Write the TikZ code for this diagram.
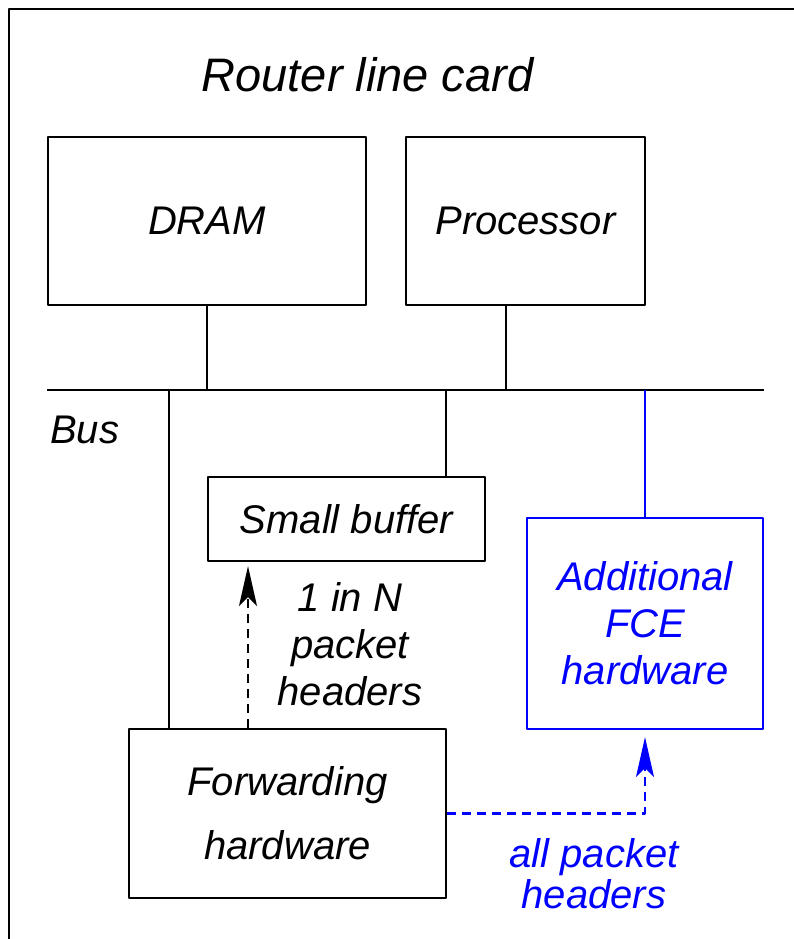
\documentclass[tikz,border=0pt]{standalone}
\usepackage{fontspec}
\setmainfont{Liberation Sans}
\usetikzlibrary{arrows.meta}
\begin{document}
\begin{tikzpicture}[x=1pt,y=-1pt,font=\fontsize{40}{47}\selectfont\itshape,line join=round,
	box/.style={draw,line width=2.2pt,inner sep=0pt,align=center},
	link/.style={line width=2.2pt},
	flow/.style={line width=2.2pt,dash pattern=on 9pt off 6pt,-{Stealth[length=40pt,width=18pt,inset=9pt]}}]
	\useasboundingbox (0,0) rectangle (794,939);
	\clip (0,0) rectangle (794,939);
	\path
	(47,390) coordinate (busL)
	(764,390) coordinate (busR)
	(169,390) coordinate (tapF)
	(446,390) coordinate (tapB)
	(248,0) coordinate (hdr)
	;
	\draw[line width=2.2pt] (9,9) rectangle (840,990);
	\node[anchor=base,font=\fontsize{47}{56}\selectfont\itshape] (title) at (367.5,92) {Router line card};
	\node[box,minimum width=318pt,minimum height=168pt] (dram) at (207,221) {DRAM};
	\node[box,minimum width=239pt,minimum height=168pt] (proc) at (525.5,221) {Processor};
	\node[box,minimum width=277pt,minimum height=84pt] (sbuf) at (346.5,519) {Small buffer};
	\node[box,blue,minimum width=236pt,minimum height=211pt] (fce) at (645,623.5) {Additional\\FCE\\hardware};
	\node[box,minimum width=317pt,minimum height=169pt,font=\fontsize{40}{64}\selectfont\itshape] (fwd) at (287.5,813.5) {Forwarding\\hardware};
	\node[anchor=base west,inner sep=0pt] (bus) at (50,443) {Bus};
	\node[align=center,inner sep=0pt] (onein) at (350,644.5) {1 in N\\packet\\headers};
	\node[align=center,inner sep=0pt,blue,font=\fontsize{40}{41}\selectfont\itshape] (allhdr) at (594,874) {all packet\\headers};
	% bus and taps
	\draw[link] (busL) -- (busR);
	\draw[link] (dram.south) -- (dram.south |- busL);
	\draw[link] ([xshift=-19.5pt]proc.south) -- ([xshift=-19.5pt]proc.south |- busL);
	\draw[link] (tapF) -- (tapF |- fwd.north);
	\draw[link] (tapB) -- (tapB |- sbuf.north);
	\draw[link,blue] (fce.north) -- (fce.north |- busL);
	% header paths
	\draw[flow,shorten >=4pt] (hdr |- fwd.north) -- (hdr |- sbuf.south);
	\draw[flow,blue,shorten >=7pt] (fwd.east) -| (fce.south);
\end{tikzpicture}
\end{document}
